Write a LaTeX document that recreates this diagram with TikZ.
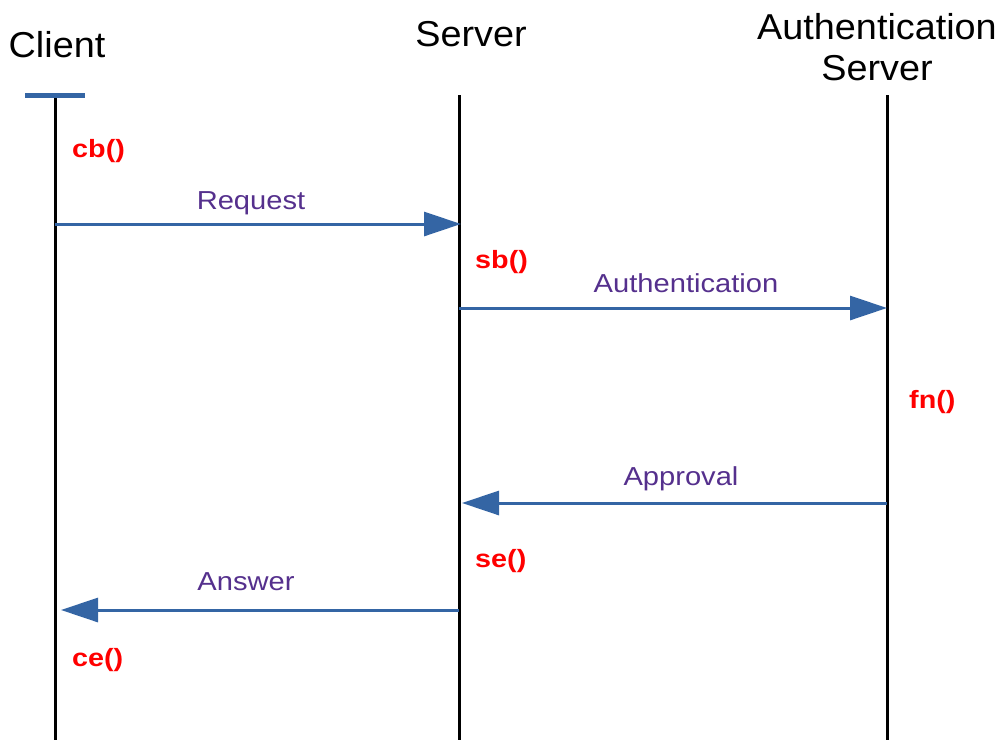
\documentclass[tikz,border=0pt]{standalone}
\usepackage{fontspec}
\setmainfont{Liberation Sans}
\newfontfamily\hdrfont[FakeStretch=1.05]{Liberation Sans}
\newfontfamily\lblfont[FakeStretch=1.12]{Liberation Sans}
\newfontfamily\fnfont[FakeStretch=1.15]{Liberation Sans}
\usetikzlibrary{arrows.meta}
\definecolor{msgblue}{HTML}{3465A4}
\definecolor{msgpurple}{HTML}{55308D}
\definecolor{fnred}{HTML}{FF0000}
\tikzset{
  lifeline/.style={line width=3pt, black},
  msg/.style={line width=3pt, msgblue, -{Triangle[length=37pt,width=24pt]}},
  header/.style={font=\hdrfont\fontsize{36}{42}\selectfont, anchor=base, inner sep=0pt, align=center},
  msglabel/.style={font=\lblfont\fontsize{26}{30}\selectfont, text=msgpurple, anchor=base, inner sep=0pt},
  fnlabel/.style={font=\fnfont\bfseries\fontsize{25}{29}\selectfont, text=fnred, anchor=base west, inner sep=0pt},
}
\begin{document}
\begin{tikzpicture}[x=1pt, y=-1pt]
\useasboundingbox (0,0) rectangle (998,740);
% lifelines
\coordinate (ctop) at (55,95);  \coordinate (cbot) at (55,740);
\coordinate (stop) at (459,95); \coordinate (sbot) at (459,740);
\coordinate (atop) at (887,95); \coordinate (abot) at (887,740);
\draw[lifeline] (ctop) -- (cbot);
\draw[lifeline] (stop) -- (sbot);
\draw[lifeline] (atop) -- (abot);
% client start bar
\coordinate (barl) at (25,95); \coordinate (barr) at (85,95);
\draw[msgblue, line width=5pt] (barl) -- (barr);
% headers
\node[header] (hclient) at (57,57) {Client};
\node[header] (hserver) at (471,46) {Server};
\node[header] (hauth1) at (877,39) {Authentication};
\node[header] (hauth2) at (877,80) {Server};
% function labels
\node[fnlabel] (cb) at (72,157) {cb()};
\node[fnlabel] (sb) at (475,268) {sb()};
\node[fnlabel] (fn) at (909,408) {fn()};
\node[fnlabel] (se) at (475,567) {se()};
\node[fnlabel] (ce) at (72,666) {ce()};
% messages
\coordinate (m1a) at (55,224);  \coordinate (m1b) at (461,224);
\coordinate (m2a) at (459,308); \coordinate (m2b) at (887,308);
\coordinate (m3a) at (887,503); \coordinate (m3b) at (462,503);
\coordinate (m4a) at (459,610); \coordinate (m4b) at (61,610);
\draw[msg] (m1a) -- (m1b);
\draw[msg] (m2a) -- (m2b);
\draw[msg] (m3a) -- (m3b);
\draw[msg] (m4a) -- (m4b);
\node[msglabel] (lreq) at (251,209) {Request};
\node[msglabel] (lauth) at (686,292) {Authentication};
\node[msglabel] (lappr) at (681,485) {Approval};
\node[msglabel] (lans) at (246,590) {Answer};
\end{tikzpicture}
\end{document}
